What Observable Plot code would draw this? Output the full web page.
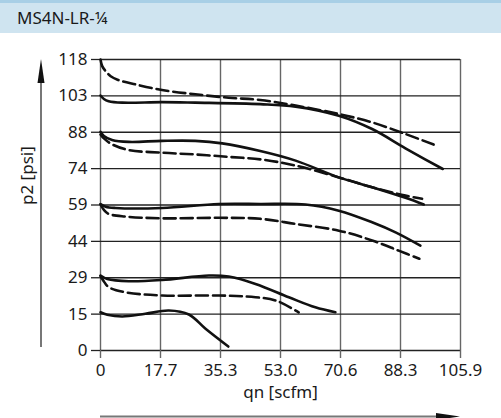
<!DOCTYPE html>
<html>
<head>
<meta charset="utf-8">
<script src="https://cdn.jsdelivr.net/npm/d3@7"></script>
<script src="https://cdn.jsdelivr.net/npm/@observablehq/plot@0.6"></script>
<style>
  html, body { margin: 0; padding: 0; background: #fff; }
  body { width: 501px; height: 418px; overflow: hidden; font-family: "Noto Sans", sans-serif; }
  #hdr { box-sizing: border-box; height: 33px; background: #cfe4f0; border-top: 3px solid #a8cfe6;
         font-size: 17px; color: #1a1a1a; padding-left: 17px; line-height: 29px; }
</style>
</head>
<body>
<div id="hdr">MS4N-LR-¼</div>
<div id="chart"></div>
<script>
const title = "MS4N-LR-¼";
const xLabel = "qn [scfm]";
const yLabel = "p2 [psi]";
const xTickPos = [0, 17.65, 35.3, 52.95, 70.6, 88.25, 105.9];
const xTickLabels = ["0", "17.7", "35.3", "53.0", "70.6", "88.3", "105.9"];
const yTickPos = [0, 14.75, 29.5, 44.25, 59, 73.75, 88.5, 103.25, 118];
const yTickLabels = ["0", "15", "29", "44", "59", "74", "88", "103", "118"];

// curves: [qn, p2]
const c118Dashed = [[0,118],[0.5,115.3],[1.5,113.3],[3,111.2],[5,109.8],[10.3,107.9],[18.1,105.6],[27.9,103.9],[37.7,102.5],[47,101.6],[57.4,99.3],[70.1,95.9],[79.9,92.5],[89.7,87.8],[98,83.5]];
const c103Solid = [[0,103.4],[1,102],[2.4,101.1],[6.4,100.5],[18.1,100.7],[27.9,100.5],[47,99.9],[57.4,98.9],[70.1,95.2],[79.9,89.8],[89.7,82],[100.7,73.6]];
const c88Solid = [[0,88.7],[1,87],[3.4,85.4],[8.3,84.6],[18.1,85],[27.9,85],[35.8,84],[47,80.9],[57.4,77],[70.1,70.2],[79.9,66.2],[89.7,61.9],[95.1,59.2]];
const c88Dashed = [[0,87.6],[1,86],[3.4,83.6],[8.3,81.3],[18.1,80.2],[27.9,79.5],[37.7,78.5],[47,77.5],[57.4,75],[70.1,70.2],[79.9,66.2],[89.7,62.8],[94.6,61.5]];
const c59Solid = [[0,59.4],[1.5,58.3],[4.4,57.8],[18.1,57.8],[34.8,59.4],[47,59.4],[60.3,59.2],[70.1,56.7],[79.9,52],[86.8,47.9],[94.1,42.5]];
const c59Dashed = [[0,59.2],[1,57],[2.4,55.4],[7.4,54.3],[18.1,53.6],[34.8,53.8],[47,53.4],[57.4,51.3],[70.1,48.6],[79.9,44.6],[87.7,40.5],[93.8,37.2]];
const c29Solid = [[0,30.4],[2,29],[8.3,28.1],[18.1,28.6],[31.9,30.4],[37.7,30],[45.6,27],[55.4,21.6],[63.2,17.5],[69.1,15.5]];
const c29Dashed = [[0,30.2],[1,28],[2.4,25.7],[7.4,23.6],[18.1,22.3],[34.8,22.3],[45.6,21.6],[51.5,20.3],[58.3,15.5]];
const c15Solid = [[0,15.5],[2,14.5],[6.4,13.8],[13.2,14.9],[20.1,16.2],[26,14.6],[30.9,8.8],[37.6,1.6]];

const solidCurves = [c103Solid, c88Solid, c59Solid, c29Solid, c15Solid];
const dashedCurves = [c118Dashed, c88Dashed, c59Dashed, c29Dashed];

const FONT = "Noto Sans, sans-serif";
const W = 501, H = 385;
const mL = 100, mR = 41, mT = 26, mB = 68;

const lineMarks = [];
for (const c of solidCurves) lineMarks.push(Plot.line(c, {x: d => d[0], y: d => d[1], stroke: "#111", strokeWidth: 2.6, curve: "catmull-rom"}));
for (const c of dashedCurves) lineMarks.push(Plot.line(c, {x: d => d[0], y: d => d[1], stroke: "#111", strokeWidth: 2.6, strokeDasharray: "12,5", curve: "catmull-rom"}));

const plot = Plot.plot({
  width: W, height: H,
  marginLeft: mL, marginRight: mR, marginTop: mT, marginBottom: mB,
  style: {fontFamily: FONT, fontSize: "17px", color: "#1a1a1a", background: "transparent", overflow: "visible"},
  x: {domain: [0, 105.9]},
  y: {domain: [0, 118]},
  marks: [
    Plot.ruleX(xTickPos, {stroke: "#666", strokeWidth: 1.4}),
    Plot.ruleY(yTickPos, {stroke: "#222", strokeWidth: 1.3}),
    Plot.axisX({ticks: xTickPos, tickFormat: (d, i) => xTickLabels[i], tickSize: 8, tickPadding: 5, stroke: "#666", strokeWidth: 1.4, label: null, fontSize: 17}),
    Plot.axisY({ticks: yTickPos, tickFormat: (d, i) => yTickLabels[i], tickSize: 9, tickPadding: 4, stroke: "#222", strokeWidth: 1.3, label: null, fontSize: 17}),
    ...lineMarks,
    Plot.text([xLabel], {frameAnchor: "bottom", dy: 47, text: d => d, fontSize: 17, fill: "#1a1a1a"}),
    Plot.text([yLabel], {frameAnchor: "left", dx: -73, rotate: -90, text: d => d, fontSize: 17, fill: "#1a1a1a"})
  ]
});
document.getElementById("chart").appendChild(plot);

// axis arrows (decorations) positioned from the scales
const svg = d3.select(plot.tagName === "svg" ? plot : plot.querySelector("svg"));
const xr = plot.scale("x").range, yr = plot.scale("y").range;
const ax = xr[0] - 59;
svg.append("line").attr("x1", ax).attr("x2", ax).attr("y1", yr[0] - 3).attr("y2", yr[1] + 20)
  .attr("stroke", "#777").attr("stroke-width", 2);
svg.append("path").attr("d", `M${ax},${yr[1]} L${ax-3.5},${yr[1]+24} L${ax+3.5},${yr[1]+24} Z`).attr("fill", "#111");
const ay = H - 1.5;
svg.append("line").attr("x1", xr[0]).attr("x2", xr[1] - 20).attr("y1", ay).attr("y2", ay)
  .attr("stroke", "#777").attr("stroke-width", 2);
svg.append("path").attr("d", `M${xr[1]},${ay} L${xr[1]-24},${ay-3.5} L${xr[1]-24},${ay+3.5} Z`).attr("fill", "#111");
</script>
</body>
</html>
